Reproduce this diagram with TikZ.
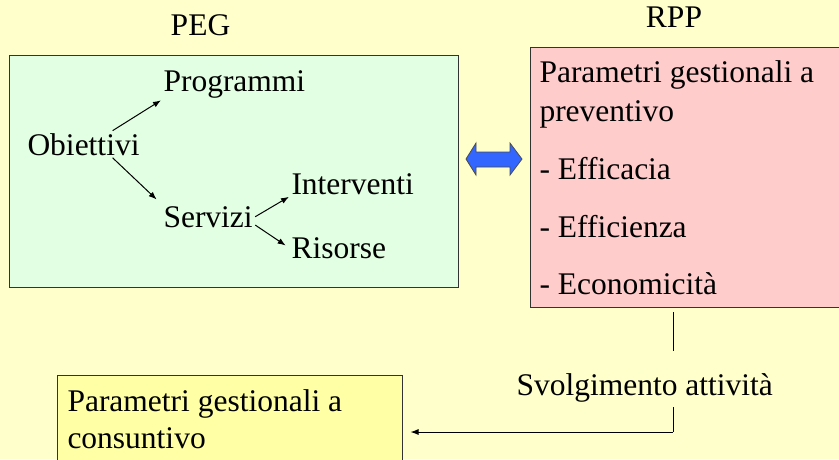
\documentclass[tikz,border=0pt]{standalone}
\usepackage{fontspec}
\setmainfont{Liberation Serif}
\usetikzlibrary{arrows.meta}
\definecolor{bgyellow}{HTML}{FFFFCC}
\definecolor{pegfill}{HTML}{E3FFE3}
\definecolor{rppfill}{HTML}{FFCCCC}
\definecolor{consfill}{HTML}{FFFFA6}
\definecolor{arrowblue}{HTML}{3366FF}

\begin{document}
\begin{tikzpicture}[x=1pt, y=-1pt, line width=1pt,
    >={Latex[length=8pt,width=6pt]},
    every node/.style={font=\fontsize{31.5pt}{38pt}\selectfont},
    box/.style={draw=black!80, inner sep=0pt},
    txt/.style={anchor=base west, inner sep=2pt}]
  \useasboundingbox (0,0) rectangle (839,459);
  \clip (0,0) rectangle (839,459);
  \fill[bgyellow] (0,0) rectangle (839,459);

  % the three boxes
  \node[box, fill=pegfill, minimum width=449pt, minimum height=232pt] (peg) at (233.5,171) {};
  \node[box, fill=rppfill, minimum width=315pt, minimum height=260pt] (rpp) at (687.5,177) {};
  \node[box, fill=consfill, minimum width=345pt, minimum height=100pt] (cons) at (229.5,425) {};

  % titles
  \node[anchor=base, inner sep=0pt] (pegtitle) at (200.5,35) {PEG};
  \node[anchor=base, inner sep=0pt] (rpptitle) at (674,27) {RPP};

  % PEG content
  \node[txt] (obiettivi) at (25,155) {Obiettivi};
  \node[txt] (programmi) at (161,91) {Programmi};
  \node[txt] (servizi) at (161,227) {Servizi};
  \node[txt] (interventi) at (289,194) {Interventi};
  \node[txt] (risorse) at (289,258) {Risorse};
  \draw[->] (obiettivi.25) -- (programmi.south west);
  \draw[->, shorten >=6pt] (obiettivi.-25) -- (servizi.north west);
  \draw[->] (servizi.east) -- (interventi.south west);
  \draw[->, shorten >=4pt] (servizi.-10) -- (risorse.west);

  % double arrow between PEG and RPP
  \filldraw[fill=arrowblue, draw=black!70, line width=0.8pt]
    (466,159) -- (476,143) -- (476,152) -- (510,152) -- (510,143) -- (522,159)
    -- (510,175) -- (510,167) -- (476,167) -- (476,175) -- cycle;

  % RPP content
  \node[txt] (rpp1) at (537,82) {Parametri gestionali a};
  \node[txt] (rpp2) at (537,121) {preventivo};
  \node[txt] (rpp3) at (537,179) {- Efficacia};
  \node[txt] (rpp4) at (537,237) {- Efficienza};
  \node[txt] (rpp5) at (537,294) {- Economicità};

  % consuntivo
  \node[txt] (cons1) at (65,411) {Parametri gestionali a};
  \node[txt] (cons2) at (65,448) {consuntivo};

  % svolgimento
  \node[txt] (svolg) at (514,395) {Svolgimento attività};
  \coordinate (s1) at (673,312);
  \coordinate (s2) at (673,351);
  \coordinate (s3) at (673,407);
  \coordinate (s4) at (673,432);
  \draw (s1) -- (s2);
  \draw (s3) -- (s4);
  \draw[->, shorten >=8pt] (s4) -- (s4 -| cons.east);
\end{tikzpicture}
\end{document}
